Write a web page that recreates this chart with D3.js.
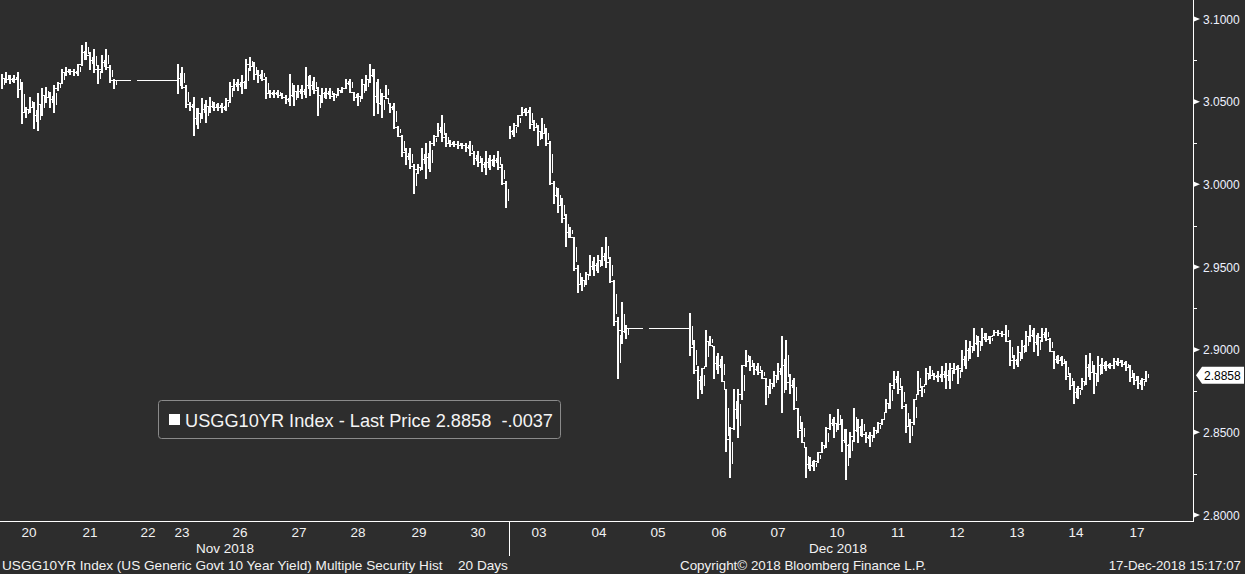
<!DOCTYPE html>
<html><head><meta charset="utf-8">
<script src="https://cdn.jsdelivr.net/npm/d3@7"></script>
<style>
html,body{margin:0;padding:0;background:#2d2d2d;}
svg{display:block;}
</style></head>
<body>
<svg id="chart" width="1245" height="574"></svg>
<script>
// ---- DATA (USGG10YR intraday, ~4px buckets; null = no print) ----
const highs = [
3.067,3.068,3.066,3.066,3.068,3.062,3.047,3.053,3.050,3.055,3.058,3.059,3.056,3.060,3.062,3.070,3.071,3.070,3.070,3.073,
3.084,3.086,3.080,3.082,3.072,3.078,3.082,3.072,3.064,3.063,3.063,3.063,3.063,null,3.063,3.063,3.063,3.063,3.063,3.063,
3.063,3.063,3.063,3.063,3.073,3.071,3.060,3.050,3.053,3.046,3.052,3.051,3.053,3.050,3.049,3.049,3.052,3.062,3.064,3.064,
3.066,3.076,3.077,3.074,3.069,3.069,3.065,3.057,3.057,3.057,3.055,3.054,3.067,3.060,3.060,3.060,3.071,3.066,3.065,3.059,
3.058,3.058,3.058,3.055,3.058,3.059,3.064,3.064,3.056,3.055,3.064,3.066,3.073,3.070,3.064,3.055,3.060,3.049,3.049,3.035,
3.030,3.022,3.022,3.012,3.012,3.022,3.025,3.026,3.030,3.037,3.042,3.031,3.027,3.026,3.026,3.025,3.025,3.026,3.020,3.020,
3.016,3.020,3.018,3.018,3.020,3.012,3.002,3.035,3.037,3.042,3.047,3.046,3.047,3.039,3.036,3.040,3.034,3.026,3.002,2.998,
2.992,2.982,2.974,2.968,2.951,2.944,2.947,2.957,2.956,2.957,2.962,2.968,2.956,2.942,2.920,2.929,2.915,2.913,2.913,2.913,
2.913,null,2.913,2.913,2.913,2.913,2.913,2.913,2.913,2.913,2.913,2.913,2.922,2.906,2.890,2.889,2.912,2.908,2.902,2.898,
2.896,2.876,2.853,2.876,2.876,2.891,2.900,2.896,2.892,2.892,2.888,2.883,2.882,2.887,2.892,2.908,2.906,2.885,2.883,2.865,
2.856,2.841,2.835,2.833,2.838,2.844,2.853,2.861,2.859,2.864,2.858,2.852,2.850,2.865,2.858,2.858,2.850,2.850,2.853,2.856,
2.858,2.870,2.880,2.887,2.887,2.878,2.867,2.858,2.870,2.887,2.878,2.889,2.890,2.886,2.887,2.890,2.892,2.892,2.892,2.891,
2.900,2.906,2.905,2.913,2.908,2.913,2.910,2.908,2.912,2.912,2.911,2.915,2.906,2.897,2.902,2.906,2.911,2.915,2.913,2.910,
2.913,2.913,2.907,2.899,2.897,2.896,2.893,2.886,2.881,2.878,2.883,2.897,2.898,2.891,2.896,2.895,2.893,2.892,2.895,2.895,
2.894,2.893,2.891,2.886,2.884,2.883,2.887
];
const lows = [
3.058,3.062,3.061,3.062,3.053,3.037,3.041,3.044,3.034,3.033,3.042,3.050,3.047,3.044,3.057,3.061,3.066,3.067,3.066,3.066,
3.072,3.076,3.070,3.068,3.061,3.068,3.070,3.062,3.058,3.063,3.063,3.063,3.063,null,3.063,3.063,3.063,3.063,3.063,3.063,
3.063,3.063,3.063,3.063,3.055,3.058,3.047,3.045,3.030,3.034,3.040,3.038,3.044,3.045,3.045,3.044,3.045,3.050,3.057,3.057,
3.055,3.058,3.069,3.064,3.062,3.063,3.052,3.053,3.053,3.053,3.052,3.049,3.048,3.048,3.053,3.052,3.053,3.054,3.055,3.042,
3.050,3.052,3.052,3.051,3.054,3.056,3.058,3.056,3.051,3.048,3.052,3.057,3.062,3.042,3.043,3.041,3.052,3.044,3.034,3.029,
3.017,3.012,3.010,2.995,3.007,3.009,3.004,3.008,3.024,3.029,3.026,3.023,3.023,3.023,3.022,3.022,3.020,3.018,3.012,3.011,
3.008,3.006,3.009,3.011,3.009,3.000,2.986,3.028,3.029,3.035,3.042,3.042,3.034,3.033,3.024,3.028,3.024,3.000,2.989,2.983,
2.977,2.963,2.968,2.948,2.935,2.936,2.940,2.945,2.945,2.947,2.951,2.950,2.941,2.915,2.883,2.904,2.907,2.913,2.913,2.913,
2.913,null,2.913,2.913,2.913,2.913,2.913,2.913,2.913,2.913,2.913,2.913,2.897,2.886,2.871,2.874,2.890,2.903,2.883,2.886,
2.881,2.839,2.823,2.852,2.847,2.870,2.890,2.888,2.885,2.885,2.883,2.867,2.874,2.878,2.882,2.862,2.876,2.874,2.864,2.847,
2.844,2.823,2.827,2.827,2.832,2.838,2.841,2.852,2.847,2.852,2.839,2.822,2.835,2.845,2.844,2.848,2.844,2.842,2.847,2.850,
2.855,2.862,2.865,2.877,2.874,2.865,2.850,2.844,2.855,2.873,2.872,2.879,2.883,2.882,2.881,2.881,2.877,2.877,2.886,2.880,
2.887,2.889,2.895,2.900,2.896,2.903,2.905,2.904,2.909,2.909,2.908,2.905,2.891,2.889,2.890,2.895,2.899,2.905,2.899,2.897,
2.905,2.906,2.899,2.889,2.892,2.891,2.882,2.876,2.868,2.871,2.876,2.879,2.882,2.874,2.881,2.886,2.888,2.889,2.889,2.891,
2.890,2.888,2.881,2.879,2.877,2.876,2.881
];
const lastPrice = 2.8858;
const netChange = "-.0037";
const seriesName = "USGG10YR Index - Last Price";

const dayLabels = ["20","21","22","23","26","27","28","29","30","03","04","05","06","07","10","11","12","13","14","17"];
const dayLabelPos = [6.75,22,36.5,45,59.5,74.25,89,104.25,119,134.25,149.25,164,179.25,194,208.75,224,238.75,253.75,268.5,283.75];
const monthLabels = ["Nov 2018","Dec 2018"];
const monthLabelPos = [55.75,209];
const monthBreakPos = [126.75];

const yTicksMajor = [2.80,2.85,2.90,2.95,3.00,3.05,3.10];
const yTicksMinor = [2.825,2.875,2.925,2.975,3.025,3.075];

const footerLeft = "USGG10YR Index (US Generic Govt 10 Year Yield) Multiple Security Hist";
const footerDays = "20 Days";
const footerMid = "Copyright\u00A9 2018 Bloomberg Finance L.P.";
const footerRight = "17-Dec-2018 15:17:07";

// ---- LAYOUT ----
const W = 1245, H = 574;
const plotL = 0, plotR = 1193, plotB = 521;
const BG = "#2d2d2d", FG = "#ffffff";
const svg = d3.select("#chart");
svg.append("rect").attr("width", W).attr("height", H).attr("fill", BG);

const x = d3.scaleLinear().domain([-0.5, 297.75]).range([plotL, plotR]);
const y = d3.scaleLinear().domain([2.80, 3.10]).range([515, 19]);
const px = v => Math.round(x(v));
const py = v => Math.round(y(v)) + 0.5;

const fontMain = "'Liberation Sans', Arial, sans-serif";
const fontNarrow = "'Liberation Sans Narrow', 'Arial Narrow', 'Liberation Sans', sans-serif";

// ---- bars ----
const g = svg.append("g").attr("shape-rendering", "crispEdges");
const bars = highs.map((h, i) => ({i, h, l: lows[i]}));
let path = "";
for (let k = 0; k < bars.length - 1; k++) {
  const a = bars[k], b = bars[k + 1];
  if (a.h == null || b.h == null) continue;
  const xa = px(a.i), xb = px(b.i);
  const ovLo = Math.max(a.l, b.l), ovHi = Math.min(a.h, b.h);
  if (ovLo <= ovHi) {
    const c = (ovLo + ovHi) / 2;
    path += `M${xa},${py(c)}H${xb}`;
  } else {
    if (ovLo - ovHi > 0.015) continue;
    const c1 = a.l > b.h ? a.l : a.h;
    const c2 = a.l > b.h ? b.h : b.l;
    const xm = Math.round((xa + xb) / 2) + 0.5;
    path += `M${xa},${py(c1)}H${xm}V${py(c2)}H${xb}`;
  }
}
g.append("path").attr("d", path).attr("fill", "none").attr("stroke", FG).attr("stroke-width", 1);
const live = bars.filter(d => d.h != null);
g.selectAll("rect.bar").data(live).join("rect")
  .attr("class", "bar")
  .attr("x", d => px(d.i) - 1).attr("width", 2)
  .attr("y", d => Math.round(y(d.h))).attr("height", d => Math.max(1, Math.round(y(d.l)) - Math.round(y(d.h)) + 1))
  .attr("fill", FG);
g.selectAll("rect.bar2").data(live.filter(d => y(d.l) - y(d.h) > 6)).join("rect")
  .attr("class", "bar2")
  .attr("x", d => px(d.i) + 2).attr("width", 1)
  .attr("y", d => Math.round(y(d.h) + (y(d.l) - y(d.h)) * 0.3))
  .attr("height", d => Math.max(1, Math.round((y(d.l) - y(d.h)) * 0.45)))
  .attr("fill", FG);

// ---- axes ----
svg.append("line").attr("x1", plotR + 0.5).attr("x2", plotR + 0.5).attr("y1", 0).attr("y2", plotB + 1)
  .attr("stroke", FG).attr("stroke-width", 1);
svg.append("line").attr("x1", 0).attr("x2", plotR + 1).attr("y1", plotB + 0.5).attr("y2", plotB + 0.5)
  .attr("stroke", FG).attr("stroke-width", 1);

const ya = svg.append("g");
ya.selectAll("path.maj").data(yTicksMajor).join("path")
  .attr("d", d => `M${plotR + 1},${y(d) - 2.5}L${plotR + 7},${y(d)}L${plotR + 1},${y(d) + 2.5}Z`)
  .attr("fill", FG);
ya.selectAll("line.min").data(yTicksMinor).join("line")
  .attr("x1", plotR + 1).attr("x2", plotR + 4).attr("y1", d => py(d)).attr("y2", d => py(d))
  .attr("stroke", FG);
ya.selectAll("text").data(yTicksMajor).join("text")
  .attr("x", plotR + 10).attr("y", d => y(d) + 4.5)
  .attr("fill", "#eef2ff").attr("font-family", fontMain).attr("font-size", 12)
  .text(d => d3.format(".4f")(d));

// last price tag
const ly = y(lastPrice) + 2;
svg.append("path")
  .attr("d", `M${plotR + 3},${ly}L${plotR + 9},${ly - 8.5}H${W - 1}V${ly + 8.5}H${plotR + 9}Z`)
  .attr("fill", "#ffffff");
svg.append("text").attr("x", plotR + 11).attr("y", ly + 4.5)
  .attr("fill", "#000").attr("font-family", fontMain).attr("font-size", 12)
  .text(d3.format(".4f")(lastPrice));

// x labels
const xa = svg.append("g");
xa.selectAll("text.day").data(dayLabels).join("text")
  .attr("x", (d, i) => x(dayLabelPos[i])).attr("y", 537)
  .attr("text-anchor", "middle").attr("fill", "#f2f2f2")
  .attr("font-family", fontNarrow).attr("font-size", 13.5).text(d => d);
xa.selectAll("text.mon").data(monthLabels).join("text")
  .attr("x", (d, i) => x(monthLabelPos[i])).attr("y", 553)
  .attr("text-anchor", "middle").attr("fill", "#f2f2f2")
  .attr("font-family", fontNarrow).attr("font-size", 13.5).text(d => d);
xa.selectAll("line.brk").data(monthBreakPos).join("line")
  .attr("x1", d => Math.round(x(d)) + 0.5).attr("x2", d => Math.round(x(d)) + 0.5)
  .attr("y1", plotB).attr("y2", 556).attr("stroke", FG);

// footer
const ft = svg.append("g").attr("font-family", fontMain).attr("font-size", 13.6).attr("fill", "#f2f2f2");
ft.append("text").attr("x", 2).attr("y", 570).text(footerLeft);
ft.append("text").attr("x", 458).attr("y", 570).text(footerDays);
ft.append("text").attr("x", 680).attr("y", 570).attr("font-size", 13.4).text(footerMid);
ft.append("text").attr("x", 1241).attr("y", 570).attr("text-anchor", "end").attr("font-size", 13.3).text(footerRight);

// legend
const lg = svg.append("g");
lg.append("rect").attr("x", 158.5).attr("y", 400.5).attr("width", 402).attr("height", 38).attr("rx", 3)
  .attr("fill", BG).attr("stroke", "#8a8a8a").attr("stroke-width", 1);
lg.append("rect").attr("x", 169).attr("y", 414).attr("width", 11).attr("height", 11).attr("fill", "#ffffff");
lg.append("text").attr("x", 185).attr("y", 427).attr("fill", "#f4f4f4")
  .attr("font-family", fontMain).attr("font-size", 18.2).attr("xml:space", "preserve").style("white-space", "pre")
  .text(`${seriesName} ${d3.format(".4f")(lastPrice)}  ${netChange}`);
</script>
</body></html>
